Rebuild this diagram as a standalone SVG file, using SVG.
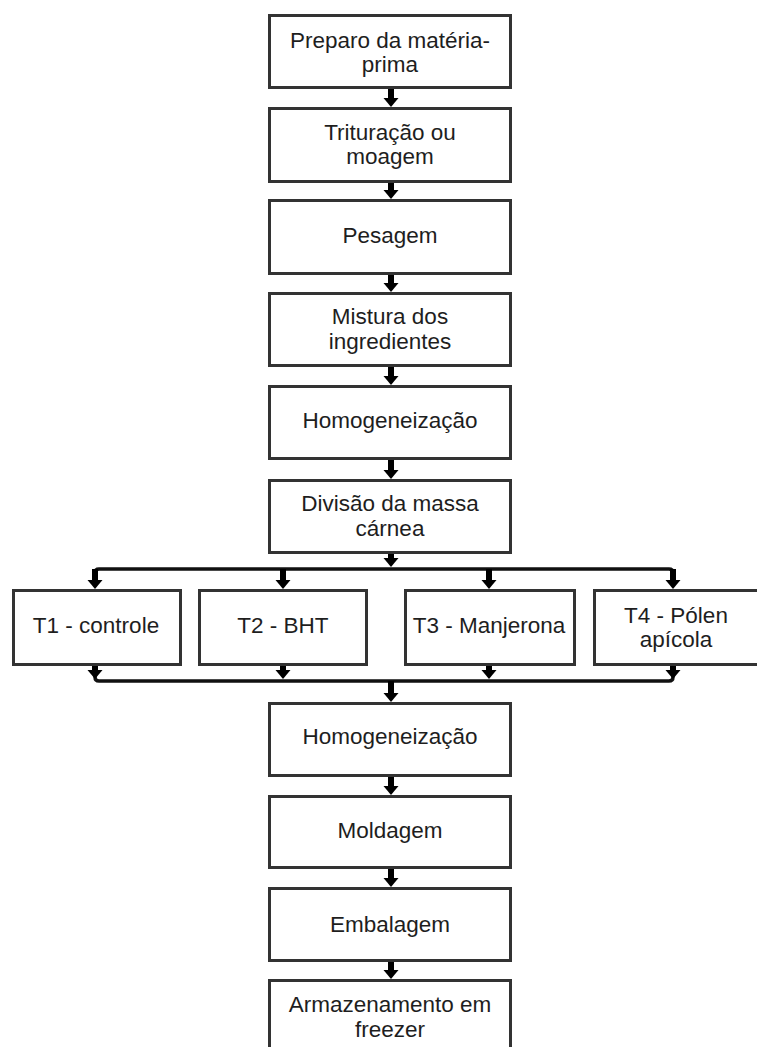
<svg xmlns="http://www.w3.org/2000/svg" xmlns:xlink="http://www.w3.org/1999/xlink" width="757" height="1047" viewBox="0 0 757 1047">
<style>
.box{fill:#fff;stroke:#333;stroke-width:3}
.t{font-family:"Liberation Sans",Arial,sans-serif;font-size:22.5px;fill:#1e1e1e;text-anchor:middle}
.stem{stroke:#000;stroke-width:6;fill:none}
.bus{stroke:#111;stroke-width:3.5;fill:none}
.ah{fill:#000}
</style>
<defs>
<path id="ah" d="M-7.5,0 H7.5 L0,9 Z"/>
</defs>
<rect width="757" height="1047" fill="#fff"/>
<g id="connectors">
<!-- main chain arrows -->
<line class="stem" x1="391" y1="89" x2="391" y2="99"/><use xlink:href="#ah" href="#ah" class="ah" x="391" y="98"/>
<line class="stem" x1="391" y1="183" x2="391" y2="191"/><use xlink:href="#ah" href="#ah" class="ah" x="391" y="190"/>
<line class="stem" x1="391" y1="275" x2="391" y2="284"/><use xlink:href="#ah" href="#ah" class="ah" x="391" y="283"/>
<line class="stem" x1="391" y1="367" x2="391" y2="377"/><use xlink:href="#ah" href="#ah" class="ah" x="391" y="376"/>
<line class="stem" x1="391" y1="460" x2="391" y2="471"/><use xlink:href="#ah" href="#ah" class="ah" x="391" y="470"/>
<!-- split -->
<line class="stem" x1="391" y1="554" x2="391" y2="559"/><use xlink:href="#ah" href="#ah" class="ah" x="391" y="558"/>
<path class="bus" d="M95,580 V573 Q95,569 99,569 H669 Q673,569 673,573 V580"/>
<line class="stem" x1="95" y1="569" x2="95" y2="581"/><use xlink:href="#ah" href="#ah" class="ah" x="95" y="580"/>
<line class="stem" x1="283" y1="569" x2="283" y2="581"/><use xlink:href="#ah" href="#ah" class="ah" x="283" y="580"/>
<line class="stem" x1="489" y1="569" x2="489" y2="581"/><use xlink:href="#ah" href="#ah" class="ah" x="489" y="580"/>
<line class="stem" x1="673" y1="569" x2="673" y2="581"/><use xlink:href="#ah" href="#ah" class="ah" x="673" y="580"/>
<!-- merge -->
<path class="bus" d="M95,672 V677 Q95,681 99,681 H669 Q673,681 673,677 V672"/>
<line class="stem" x1="95" y1="666" x2="95" y2="671"/><use xlink:href="#ah" href="#ah" class="ah" x="95" y="670"/>
<line class="stem" x1="283" y1="666" x2="283" y2="671"/><use xlink:href="#ah" href="#ah" class="ah" x="283" y="670"/>
<line class="stem" x1="489" y1="666" x2="489" y2="671"/><use xlink:href="#ah" href="#ah" class="ah" x="489" y="670"/>
<line class="stem" x1="673" y1="666" x2="673" y2="671"/><use xlink:href="#ah" href="#ah" class="ah" x="673" y="670"/>
<line class="stem" x1="391" y1="681" x2="391" y2="694"/><use xlink:href="#ah" href="#ah" class="ah" x="391" y="693"/>
<!-- lower chain -->
<line class="stem" x1="391" y1="777" x2="391" y2="787"/><use xlink:href="#ah" href="#ah" class="ah" x="391" y="786"/>
<line class="stem" x1="391" y1="869" x2="391" y2="879"/><use xlink:href="#ah" href="#ah" class="ah" x="391" y="878"/>
<line class="stem" x1="391" y1="962" x2="391" y2="971"/><use xlink:href="#ah" href="#ah" class="ah" x="391" y="970"/>
</g>
<g id="n1"><rect class="box" x="269.5" y="15.5" width="241" height="72"/><text class="t" x="390" y="48">Preparo da matéria-</text><text class="t" x="390" y="72">prima</text></g>
<g id="n2"><rect class="box" x="269.5" y="108.5" width="241" height="73"/><text class="t" x="390" y="140">Trituração ou</text><text class="t" x="390" y="164">moagem</text></g>
<g id="n3"><rect class="box" x="269.5" y="200.5" width="241" height="73"/><text class="t" x="390" y="243">Pesagem</text></g>
<g id="n4"><rect class="box" x="269.5" y="293.5" width="241" height="72"/><text class="t" x="390" y="324">Mistura dos</text><text class="t" x="390" y="349">ingredientes</text></g>
<g id="n5"><rect class="box" x="269.5" y="386.5" width="241" height="72"/><text class="t" x="390" y="428">Homogeneização</text></g>
<g id="n6"><rect class="box" x="269.5" y="480.5" width="241" height="72"/><text class="t" x="390" y="511">Divisão da massa</text><text class="t" x="390" y="536">cárnea</text></g>
<g id="t1"><rect class="box" x="13.5" y="590.5" width="167" height="74"/><text class="t" x="96" y="633">T1 - controle</text></g>
<g id="t2"><rect class="box" x="199.5" y="590.5" width="167" height="74"/><text class="t" x="283" y="633">T2 - BHT</text></g>
<g id="t3"><rect class="box" x="405.5" y="590.5" width="169" height="74"/><text class="t" x="489" y="633">T3 - Manjerona</text></g>
<g id="t4"><rect class="box" x="594.5" y="590.5" width="170" height="74"/><text class="t" x="676" y="623">T4 - Pólen</text><text class="t" x="676" y="647">apícola</text></g>
<g id="n7"><rect class="box" x="269.5" y="703.5" width="241" height="72"/><text class="t" x="390" y="744">Homogeneização</text></g>
<g id="n8"><rect class="box" x="269.5" y="796.5" width="241" height="71"/><text class="t" x="390" y="838">Moldagem</text></g>
<g id="n9"><rect class="box" x="269.5" y="888.5" width="241" height="72"/><text class="t" x="390" y="932">Embalagem</text></g>
<g id="n10"><rect class="box" x="269.5" y="980.5" width="241" height="80"/><text class="t" x="390" y="1012">Armazenamento em</text><text class="t" x="390" y="1037">freezer</text></g>
</svg>
